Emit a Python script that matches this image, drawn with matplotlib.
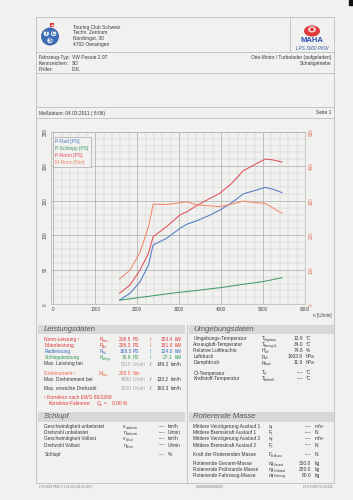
import matplotlib
matplotlib.use("Agg")
import matplotlib.pyplot as plt
from matplotlib.patches import Rectangle, Circle, Ellipse
from matplotlib.ticker import MultipleLocator

plt.rcParams['font.family'] = ['Liberation Sans', 'DejaVu Sans']

# ---------------- chart data ----------------
rpm = [1580, 1830, 2070, 2270, 2380, 2700, 3020, 3180, 3420, 3740, 3970, 4250, 4530, 4850, 5050, 5250, 5450]
p_rad = [6.2, 16, 32.7, 57, 86, 95.6, 110, 115.9, 121, 129.3, 136.5, 147, 160, 165.6, 169.4, 166.5, 161.7]
p_schlepp = [6, 8, 10, 11.5, 12.5, 15, 17.5, 18.5, 20, 22.5, 24, 26.5, 29, 31.5, 33.5, 36, 38.5]
p_norm = [16, 28, 50, 74, 98, 112.5, 129.5, 134, 143, 153.6, 160.8, 175, 193.5, 204, 210.4, 209, 206]
m_norm = [73, 99, 152, 225, 290, 289, 294, 297, 288, 285, 283, 290, 299, 294, 292.6, 278, 263.6]
series_labels = ["P-Rad [PS]", "P-Schlepp [PS]", "P-Norm [PS]", "M-Norm [Nm]"]
series_colors = ["#4f7dc4", "#3f9a68", "#e2505a", "#f08a6a"]
x_ticks = [0, 1000, 2000, 3000, 4000, 5000, 6000]
y_left_ticks = [0, 50, 100, 150, 200, 250]
y_right_ticks = [0, 100, 200, 300, 400, 500]

# ---------------- report texts ----------------
address = ["Touring Club Schweiz", "Techn. Zentrum", "Nordringst. 30", "4702 Oensingen"]
vehicle_keys = ["Fahrzeug-Typ:", "Kennzeichen:", "Prüfer:"]
vehicle_vals = ["VW Passat 2.0T", "SO", "D.K."]
engine_info = ["Otto-Motor / Turbolader (aufgeladen)", "Schaltgetriebe"]
power_labels = ["Norm-Leistung ¹", "Motorleistung", "Radleistung", "Schleppleistung"]
power_syms = [("P", "Norm"), ("P", "Mot"), ("P", "Rad"), ("P", "Schlepp")]
power_ps = ["208.5", "205.3", "168.5", "36.8"]
power_kw = ["153.4", "151.0", "124.0", "27.1"]
power_cols = ["#e03a3a", "#e03a3a", "#3a66c0", "#2f9a55"]
env_labels = ["Umgebungs-Temperatur", "Ansaugluft-Temperatur", "Relative Luftfeuchte", "Luftdruck", "Dampfdruck",
              "Öl-Temperatur", "Kraftstoff-Temperatur"]
env_syms = [("T", "Umgebung"), ("T", "Ansaugluft"), ("H", "Luft"), ("p", "Luft"), ("p", "Dampf"),
            ("T", "Öl"), ("T", "Kraftstoff")]
env_vals = ["13.9", "34.0", "74.8", "1003.9", "11.9", "----", "----"]
env_units = ["°C", "°C", "%", "hPa", "hPa", "°C", "°C"]
env_y = [338.2, 344.3, 350.4, 356.6, 362.8, 372.8, 378.8]
slip_labels = ["Geschwindigkeit unbelastet", "Drehzahl unbelastet", "Geschwindigkeit Vollast", "Drehzahl Vollast", "Schlupf"]
slip_syms = [("v", "unbelastet"), ("n", "unbelastet"), ("v", "Vollast"), ("n", "Vollast"), None]
slip_vals = ["----", "----", "----", "----", "--.-"]
slip_units = ["km/h", "U/min", "km/h", "U/min", "%"]
slip_y = [426.7, 432.8, 438.9, 445.2, 454.6]
rot_labels = ["Mittlere Verzögerung Auslauf 1", "Mittlere Bremskraft Auslauf 1", "Mittlere Verzögerung Auslauf 2",
              "Mittlere Bremskraft Auslauf 2", "Kraft der Rotierenden Masse", "Rotierende Gesamt-Masse",
              "Rotierende Prüfstands-Masse", "Rotierende Fahrzeug-Masse"]
rot_syms = [("a", "1"), ("F", "1"), ("a", "2"), ("F", "2"), ("F", "rot.Masse"), ("m", "rot.Gesamt"),
            ("m", "rot.Prüfstand"), ("m", "rot.Fahrzeug")]
rot_vals = ["----", "----", "----", "----", "----", "310.0", "250.0", "60.0"]
rot_units = ["m/s²", "N", "m/s²", "N", "N", "kg", "kg", "kg"]
rot_y = [426.7, 432.8, 438.9, 445.2, 454.4, 463.8, 469.5, 475.2]

PAPER = "#f1f1ef"
TXT = "#3a3a3a"
LINE = "#b4b4b4"
FS = 3.5

fig = plt.figure(figsize=(3.53, 5.0), dpi=100, facecolor=PAPER)
pg = fig.add_axes([0, 0, 1, 1])
pg.set_xlim(0, 353)
pg.set_ylim(500, 0)
pg.axis("off")


def T(x, y, s, size=FS, color=TXT, ha="left", **kw):
    pg.text(x, y, s, fontsize=size, color=color, ha=ha, va="center", **kw)


SYM_W = {"m": 3.0, "M": 3.3, "H": 2.8, "Q": 3.1, "F": 2.4, "P": 2.6, "T": 2.4}


def SYM(x, y, main, sub, color=TXT):
    T(x, y, main, color=color)
    w = SYM_W.get(main, 2.2)
    T(x + w, y + 1.3, sub, size=1.9, color=color)


def hl(y, x0=36, x1=334, c=LINE, lw=0.5):
    pg.plot([x0, x1], [y, y], color=c, lw=lw)


def vl(x, y0, y1, c=LINE, lw=0.5):
    pg.plot([x, x], [y0, y1], color=c, lw=lw)


# scan corner mark
pg.add_patch(Rectangle((349, 0), 4, 5, color="#111111"))

# frame
for y in [17.3, 52.3, 73.3, 106.7, 118, 483]:
    hl(y)
vl(36, 17.3, 483)
vl(334, 17.3, 483)
vl(290, 17.3, 52.3)
vl(186.7, 325, 483)

# TCS logo
pg.add_patch(Circle((50, 36.5), 8.6, facecolor="#3d6cb8", edgecolor="#2a4f8f", lw=0.4))
for (cx, cy, ch) in [(46.3, 33.5, "T"), (53.7, 33.5, "C"), (50, 40.5, "S")]:
    pg.add_patch(Circle((cx, cy), 2.7, facecolor="#e8eef8", edgecolor="none"))
    pg.text(cx, cy, ch, fontsize=3.4, color="#2a4f8f", ha="center", va="center", fontweight="bold")
pg.add_patch(Rectangle((50, 23), 4, 4, facecolor="#e03030", edgecolor="none"))
pg.plot([51, 53], [25, 25], color="white", lw=0.5)
pg.plot([52, 52], [24, 26], color="white", lw=0.5)
for i, s in enumerate(address):
    T(72.7, 27.3 + i * 5.6, s, size=3.5)

# MAHA logo
pg.add_patch(Ellipse((312, 31), 16, 11, facecolor="#e03838", edgecolor="none"))
pg.add_patch(Ellipse((312, 29.5), 8, 6, facecolor="#f4d0d0", edgecolor="none"))
pg.add_patch(Circle((312, 29.5), 1.6, facecolor="#d02020", edgecolor="none"))
pg.text(312, 40.8, "MAHA", fontsize=5.5, color="#3050b0", ha="center", va="center", fontweight="bold")
pg.text(312, 48.7, "LPS 3000 PKW", fontsize=3.3, color="#3a5aa0", ha="center", va="center", style="italic")

# vehicle info
for i, (k, v) in enumerate(zip(vehicle_keys, vehicle_vals)):
    T(39, 57.3 + i * 6.3, k)
    T(71.7, 57.3 + i * 6.3, v)
for i, s in enumerate(engine_info):
    T(331, 57.3 + i * 6.3, s, ha="right")
T(39, 113, "Meßdatum: 04.03.2011 ( 8:06)")
T(331, 113, "Seite 1", ha="right")

# ---------------- chart ----------------
xl, xr, yt, yb = 51.2, 305.0, 131.7, 304.3
ax = fig.add_axes([xl / 353, 1 - yb / 500, (xr - xl) / 353, (yb - yt) / 500])
ax.set_facecolor("none")
ax.set_xlim(-50, 6000)
ax.set_ylim(0, 250)
ax.xaxis.set_minor_locator(MultipleLocator(200))
ax.yaxis.set_minor_locator(MultipleLocator(10))
ax.grid(which="minor", color="#d0d0d0", lw=0.35)
ax.grid(which="major", color="#a9a9a9", lw=0.5)
ax.set_axisbelow(True)
ax.set_xticks(x_ticks)
ax.set_xticklabels([str(v) for v in x_ticks], fontsize=3.3, color="#444")
ax.set_yticks(y_left_ticks)
ax.set_yticklabels([str(v) for v in y_left_ticks], fontsize=3.3, color="#444", rotation=90, va="center")
ax.tick_params(which="both", length=0, pad=2.2)
for sp in ax.spines.values():
    sp.set_color(LINE)
    sp.set_linewidth(0.5)

ax2 = ax.twinx()
ax2.set_ylim(0, 500)
ax2.set_yticks(y_right_ticks)
ax2.set_yticklabels([str(v) for v in y_right_ticks], fontsize=3.3, color="#e07060", rotation=90, va="center")
ax2.tick_params(length=0, pad=3)
for sp in ax2.spines.values():
    sp.set_visible(False)

h1, = ax.plot(rpm, p_rad, color=series_colors[0], lw=0.75, label=series_labels[0])
h2, = ax.plot(rpm, p_schlepp, color=series_colors[1], lw=0.75, label=series_labels[1])
h3, = ax.plot(rpm, p_norm, color=series_colors[2], lw=0.75, label=series_labels[2])
h4, = ax2.plot(rpm, m_norm, color=series_colors[3], lw=0.75, label=series_labels[3])
leg = ax2.legend(handles=[h1, h2, h3, h4], loc="upper left",
                 bbox_to_anchor=((53 - xl) / (xr - xl), 1 - (137 - yt) / (yb - yt)),
                 borderaxespad=0, fontsize=3.5, handlelength=0, handletextpad=0,
                 labelspacing=0.38, borderpad=0.5, fancybox=False, framealpha=1,
                 facecolor=PAPER, edgecolor="#9a9a9a", labelcolor="linecolor")
leg.get_frame().set_linewidth(0.4)
for hd in leg.legend_handles:
    hd.set_visible(False)

T(322, 315.5, "n [U/min]", size=3.3, color="#444", ha="center")

# ---------------- section bands ----------------
BAND = "#d8d8d8"
pg.add_patch(Rectangle((38, 325), 147, 8.6, facecolor=BAND, edgecolor="none"))
pg.add_patch(Rectangle((188.5, 325), 145.5, 8.6, facecolor=BAND, edgecolor="none"))
pg.add_patch(Rectangle((38, 412.3), 147, 9.2, facecolor=BAND, edgecolor="none"))
pg.add_patch(Rectangle((188.5, 412.3), 145.5, 9.2, facecolor=BAND, edgecolor="none"))
T(44, 329.6, "Leistungsdaten", size=5.6, color="#555", style="italic")
T(193.3, 329.3, "Umgebungsdaten", size=5.6, color="#555", style="italic")
T(44, 417, "Schlupf", size=5.6, color="#555", style="italic")
T(193.3, 417, "Rotierende Masse", size=5.6, color="#555", style="italic")

# ---------------- Leistungsdaten ----------------
p_y = [339.3, 345.4, 351.6, 357.8]
for lab, sym, ps, kw, c, y in zip(power_labels, power_syms, power_ps, power_kw, power_cols, p_y):
    T(44.3, y, lab, color=c)
    SYM(99.5, y, sym[0], sym[1], color=c)
    T(131.5, y, ps, color=c, ha="right")
    T(133, y, "PS", color=c)
    T(150.5, y, "/", color=c)
    T(172.5, y, kw, color=c, ha="right")
    T(174.5, y, "kW", color=c)

GRAY = "#a8a8a8"
T(44.3, 364, "Max. Leistung bei")
T(131.5, 364, "5115", color=GRAY, ha="right")
T(133, 364, "U/min", color=GRAY)
T(150.5, 364, "/")
T(168.5, 364, "149.2", ha="right")
T(170.5, 364, "km/h")

OR = "#f06a50"
T(44.3, 373.3, "Drehmoment ¹", color=OR)
SYM(98.5, 373.3, "M", "Norm", color=OR)
T(131.5, 373.3, "298.5", color=OR, ha="right")
T(133, 373.3, "Nm", color=OR)
T(44.3, 379.3, "Max. Drehmoment bei")
T(131.5, 379.3, "4580", color=GRAY, ha="right")
T(133, 379.3, "U/min", color=GRAY)
T(150.5, 379.3, "/")
T(168.5, 379.3, "133.2", ha="right")
T(170.5, 379.3, "km/h")
T(44.3, 388.5, "Max. erreichte Drehzahl")
T(131.5, 388.5, "5900", color=GRAY, ha="right")
T(133, 388.5, "U/min", color=GRAY)
T(150.5, 388.5, "/")
T(168.5, 388.5, "160.3", ha="right")
T(170.5, 388.5, "km/h")
T(44.3, 397.6, "¹ Korrektur nach EWG 80/1269", color="#e03a3a")
T(48.5, 403.4, "Korrektur-Faktoren:", color="#e03a3a")
SYM(97, 403.4, "Q", "o", color="#e03a3a")
T(104, 403.4, "=", color="#e03a3a")
T(112, 403.4, "0.00 %", color="#e03a3a")

# ---------------- Umgebungsdaten ----------------
for lab, sym, v, u, y in zip(env_labels, env_syms, env_vals, env_units, env_y):
    T(193.3, y, lab)
    SYM(261.7, y, sym[0], sym[1])
    T(303, y, v, ha="right")
    T(305.5, y, u)

# ---------------- Schlupf ----------------
for lab, sym, v, u, y in zip(slip_labels, slip_syms, slip_vals, slip_units, slip_y):
    T(44.3, y, lab)
    if sym:
        SYM(123.3, y, sym[0], sym[1])
    T(165, y, v, ha="right")
    T(168, y, u)

# ---------------- Rotierende Masse ----------------
for lab, sym, v, u, y in zip(rot_labels, rot_syms, rot_vals, rot_units, rot_y):
    T(193.3, y, lab)
    SYM(268.3, y, sym[0], sym[1])
    T(311.5, y, v, ha="right")
    T(314.5, y, u)

# footer
T(39, 487, "LPS 3000 PKW V 1.26.001 (29.02.2007)", size=2.2, color="#777")
T(210, 487, "(1000000000000000)", size=2.2, color="#777", ha="center")
T(333, 487, "LPS-EURO V1.04.001", size=2.2, color="#777", ha="right")

fig.savefig("out.png", dpi=100, facecolor=PAPER)
